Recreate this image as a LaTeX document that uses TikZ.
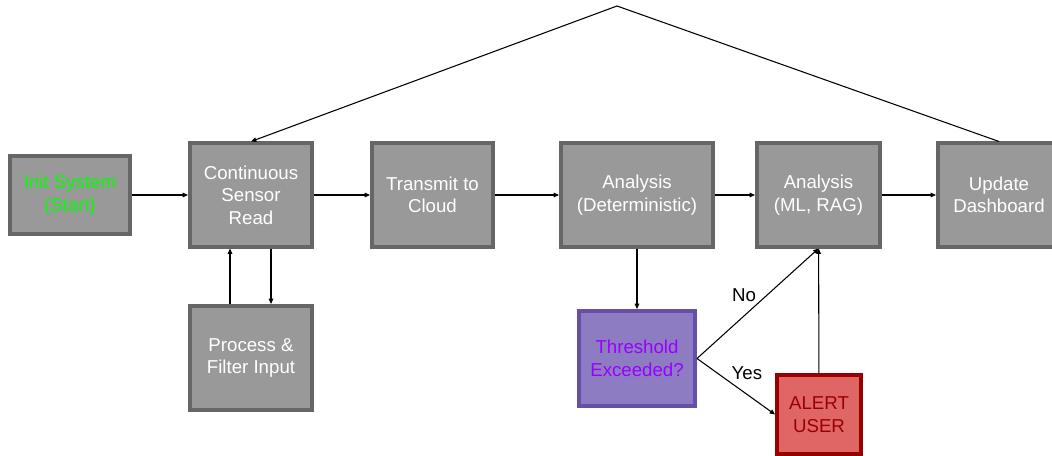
\documentclass[tikz,border=0pt]{standalone}
\usepackage{fontspec}
\setmainfont{Liberation Sans}
\usetikzlibrary{arrows.meta,calc}
\definecolor{boxfill}{HTML}{999999}
\definecolor{boxedge}{HTML}{666666}
\definecolor{startgreen}{HTML}{00FF00}
\definecolor{checkfill}{HTML}{8E7CC3}
\definecolor{checkedge}{HTML}{674EA7}
\definecolor{checktext}{HTML}{9900FF}
\definecolor{alertfill}{HTML}{E06666}
\definecolor{alertedge}{HTML}{990000}
\begin{document}
\begin{tikzpicture}[x=0.75pt,y=-0.75pt,line width=0.8pt,
    >={Triangle[length=4pt,width=3.4pt]},
    box/.style={draw=boxedge,fill=boxfill,line width=3pt,inner sep=0pt,
      text=white,align=center,font=\fontsize{14}{16.9}\selectfont},
    lbl/.style={font=\fontsize{14}{16.9}\selectfont,inner sep=1pt}]
    \clip (0,0) rectangle (1052,456);
    \node[box,text=startgreen,minimum width=90pt,minimum height=58.5pt] (init) at (70,195) {Init System\\(Start)};
    \node[box,minimum width=91.5pt,minimum height=77.25pt] (read) at (251,195) {Continuous\\Sensor\\Read};
    \node[box,minimum width=90.75pt,minimum height=77.25pt] (cloud) at (432.5,195) {Transmit to\\Cloud};
    \node[box,minimum width=114pt,minimum height=77.25pt] (det) at (637,195) {Analysis\\(Deterministic)};
    \node[box,minimum width=92.25pt,minimum height=77.25pt] (ml) at (818.5,195) {Analysis\\(ML, RAG)};
    \node[box,minimum width=91.5pt,minimum height=77.25pt] (dash) at (999,195) {Update\\Dashboard};
    \node[box,minimum width=91.5pt,minimum height=78pt] (filter) at (251,358) {Process \&\\Filter Input};
    \node[box,draw=checkedge,fill=checkfill,text=checktext,minimum width=87pt,minimum height=71.25pt] (check) at (637,358.5) {Threshold\\Exceeded?};
    \node[box,draw=alertedge,fill=alertfill,text=alertedge,minimum width=63pt,minimum height=59.25pt] (alert) at (819,414.5) {ALERT\\USER};
    \coordinate (top) at (617,6);

    \draw[->] (init) -- (read);
    \draw[->] (read) -- (cloud);
    \draw[->] (cloud) -- (det);
    \draw[->] (det) -- (ml);
    \draw[->] (ml) -- (dash);
    \draw[->] ($(filter.north)+(-21,0)$) -- ($(read.south)+(-21,0)$);
    \draw[->] ($(read.south)+(20,0)$) -- ($(filter.north)+(20,0)$);
    \draw[->] (det) -- (check);
    \draw[->] (check.east) -- (ml.south) node[lbl,midway,above left]{No};
    \draw[->] (check.east) -- (alert.west) node[lbl,pos=0.42,above right]{Yes};
    \draw[->] (alert) -- (ml);
    \draw[->] (dash.north) -- (top) -- (read.north);
\end{tikzpicture}
\end{document}
